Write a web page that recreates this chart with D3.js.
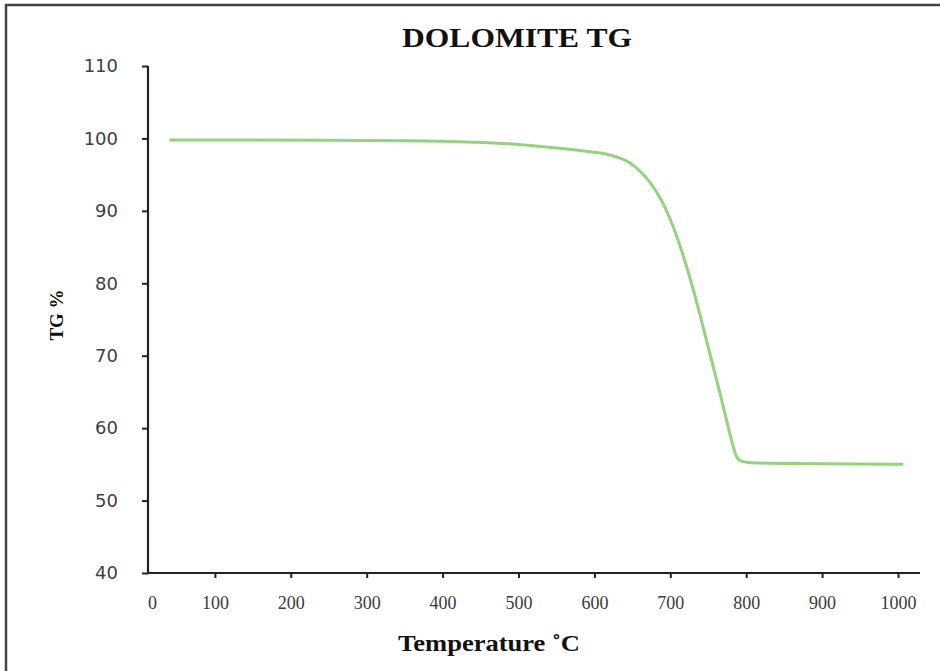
<!DOCTYPE html>
<html>
<head>
<meta charset="utf-8">
<script src="https://cdn.jsdelivr.net/npm/d3@7"></script>
<style>
  body { margin: 0; background: #fff; }
  svg { display: block; }
</style>
</head>
<body>
<div id="chart"></div>
<script>
// TG curve
var temps = [40, 150, 250, 350, 450, 500, 530, 580, 608, 620, 634, 647, 660, 673, 687, 700, 713, 726, 739, 752, 766, 779, 787, 795, 850, 950, 1007];
var tgValues = [99.8, 99.8, 99.76, 99.72, 99.5, 99.2, 98.9, 98.4, 98.0, 97.75, 97.3, 96.7, 95.55, 94.05, 91.85, 88.95, 85.2, 80.8, 75.8, 70.3, 64.65, 59.0, 55.65, 55.2, 55.1, 55.05, 55.0];
var xTicks = [0, 100, 200, 300, 400, 500, 600, 700, 800, 900, 1000];
var yTicks = [40, 50, 60, 70, 80, 90, 100, 110];

var width = 940, height = 671;
var axisLeftX = 148, axisBottomY = 573;

var svg = d3.select('#chart')
  .append('svg')
  .attr('width', width)
  .attr('height', height);

// frame of the original screenshot (open on right / bottom)
svg.append('rect')
  .attr('x', 6)
  .attr('y', 5)
  .attr('width', 1200)
  .attr('height', 1200)
  .attr('fill', 'none')
  .attr('stroke', '#444')
  .attr('stroke-width', 2.5);

var x = d3.scaleLinear()
  .domain([0, 1000])
  .range([139, 898]);

var y = d3.scaleLinear()
  .domain([40, 110])
  .range([axisBottomY, 66]);

// title
svg.append('text')
  .attr('x', 517)
  .attr('y', 47)
  .attr('text-anchor', 'middle')
  .attr('textLength', 230)
  .attr('lengthAdjust', 'spacingAndGlyphs')
  .style('font-family', '"Liberation Serif", serif')
  .style('font-weight', 'bold')
  .style('font-size', '28px')
  .attr('fill', '#111')
  .text('DOLOMITE TG');

// Y axis
var yAxisG = svg.append('g')
  .attr('transform', 'translate(' + axisLeftX + ',0)')
  .call(d3.axisLeft(y).tickValues(yTicks).tickSize(6).tickPadding(24).tickSizeOuter(0));
yAxisG.select('.domain').remove();
yAxisG.selectAll('line').attr('stroke', '#222').attr('stroke-width', 2);
yAxisG.selectAll('text')
  .attr('fill', '#404040')
  .style('font-family', '"DejaVu Sans", sans-serif')
  .style('font-size', '18px');

// X axis
var xAxisG = svg.append('g')
  .attr('transform', 'translate(0,' + axisBottomY + ')')
  .call(d3.axisBottom(x).tickValues(xTicks).tickFormat(d3.format('d'))
    .tickSize(5).tickPadding(18).tickSizeOuter(0));
xAxisG.select('.domain').remove();
xAxisG.selectAll('line').attr('stroke', '#222').attr('stroke-width', 2);
xAxisG.selectAll('.tick').filter(function(d) { return d === 0; }).select('line').remove();
xAxisG.selectAll('.tick').filter(function(d) { return d === 0; }).select('text').attr('dx', 13);
xAxisG.selectAll('text')
  .attr('fill', '#3a3a3a')
  .style('font-family', '"Liberation Serif", serif')
  .style('font-size', '18px');

// axis lines
svg.append('path')
  .attr('d', 'M' + axisLeftX + ',' + y(110) + 'V' + axisBottomY + 'H' + 920)
  .attr('fill', 'none')
  .attr('stroke', '#222')
  .attr('stroke-width', 2.2);

// axis labels
svg.append('text')
  .attr('transform', 'translate(63,315) rotate(-90)')
  .attr('text-anchor', 'middle')
  .style('font-family', '"Liberation Serif", serif')
  .style('font-weight', 'bold')
  .style('font-size', '19px')
  .attr('fill', '#111')
  .text('TG %');

svg.append('text')
  .attr('x', 489)
  .attr('y', 651)
  .attr('text-anchor', 'middle')
  .attr('textLength', 182)
  .attr('lengthAdjust', 'spacingAndGlyphs')
  .style('font-family', '"Liberation Serif", serif')
  .style('font-weight', 'bold')
  .style('font-size', '24px')
  .attr('fill', '#111')
  .text('Temperature ˚C');

// curve
var line = d3.line()
  .x(function(d, i) { return x(temps[i]); })
  .y(function(d) { return y(d); })
  .curve(d3.curveBasis);

svg.append('path')
  .datum(tgValues)
  .attr('d', line)
  .attr('fill', 'none')
  .attr('stroke', '#95d17f')
  .attr('stroke-width', 3);
</script>
</body>
</html>
